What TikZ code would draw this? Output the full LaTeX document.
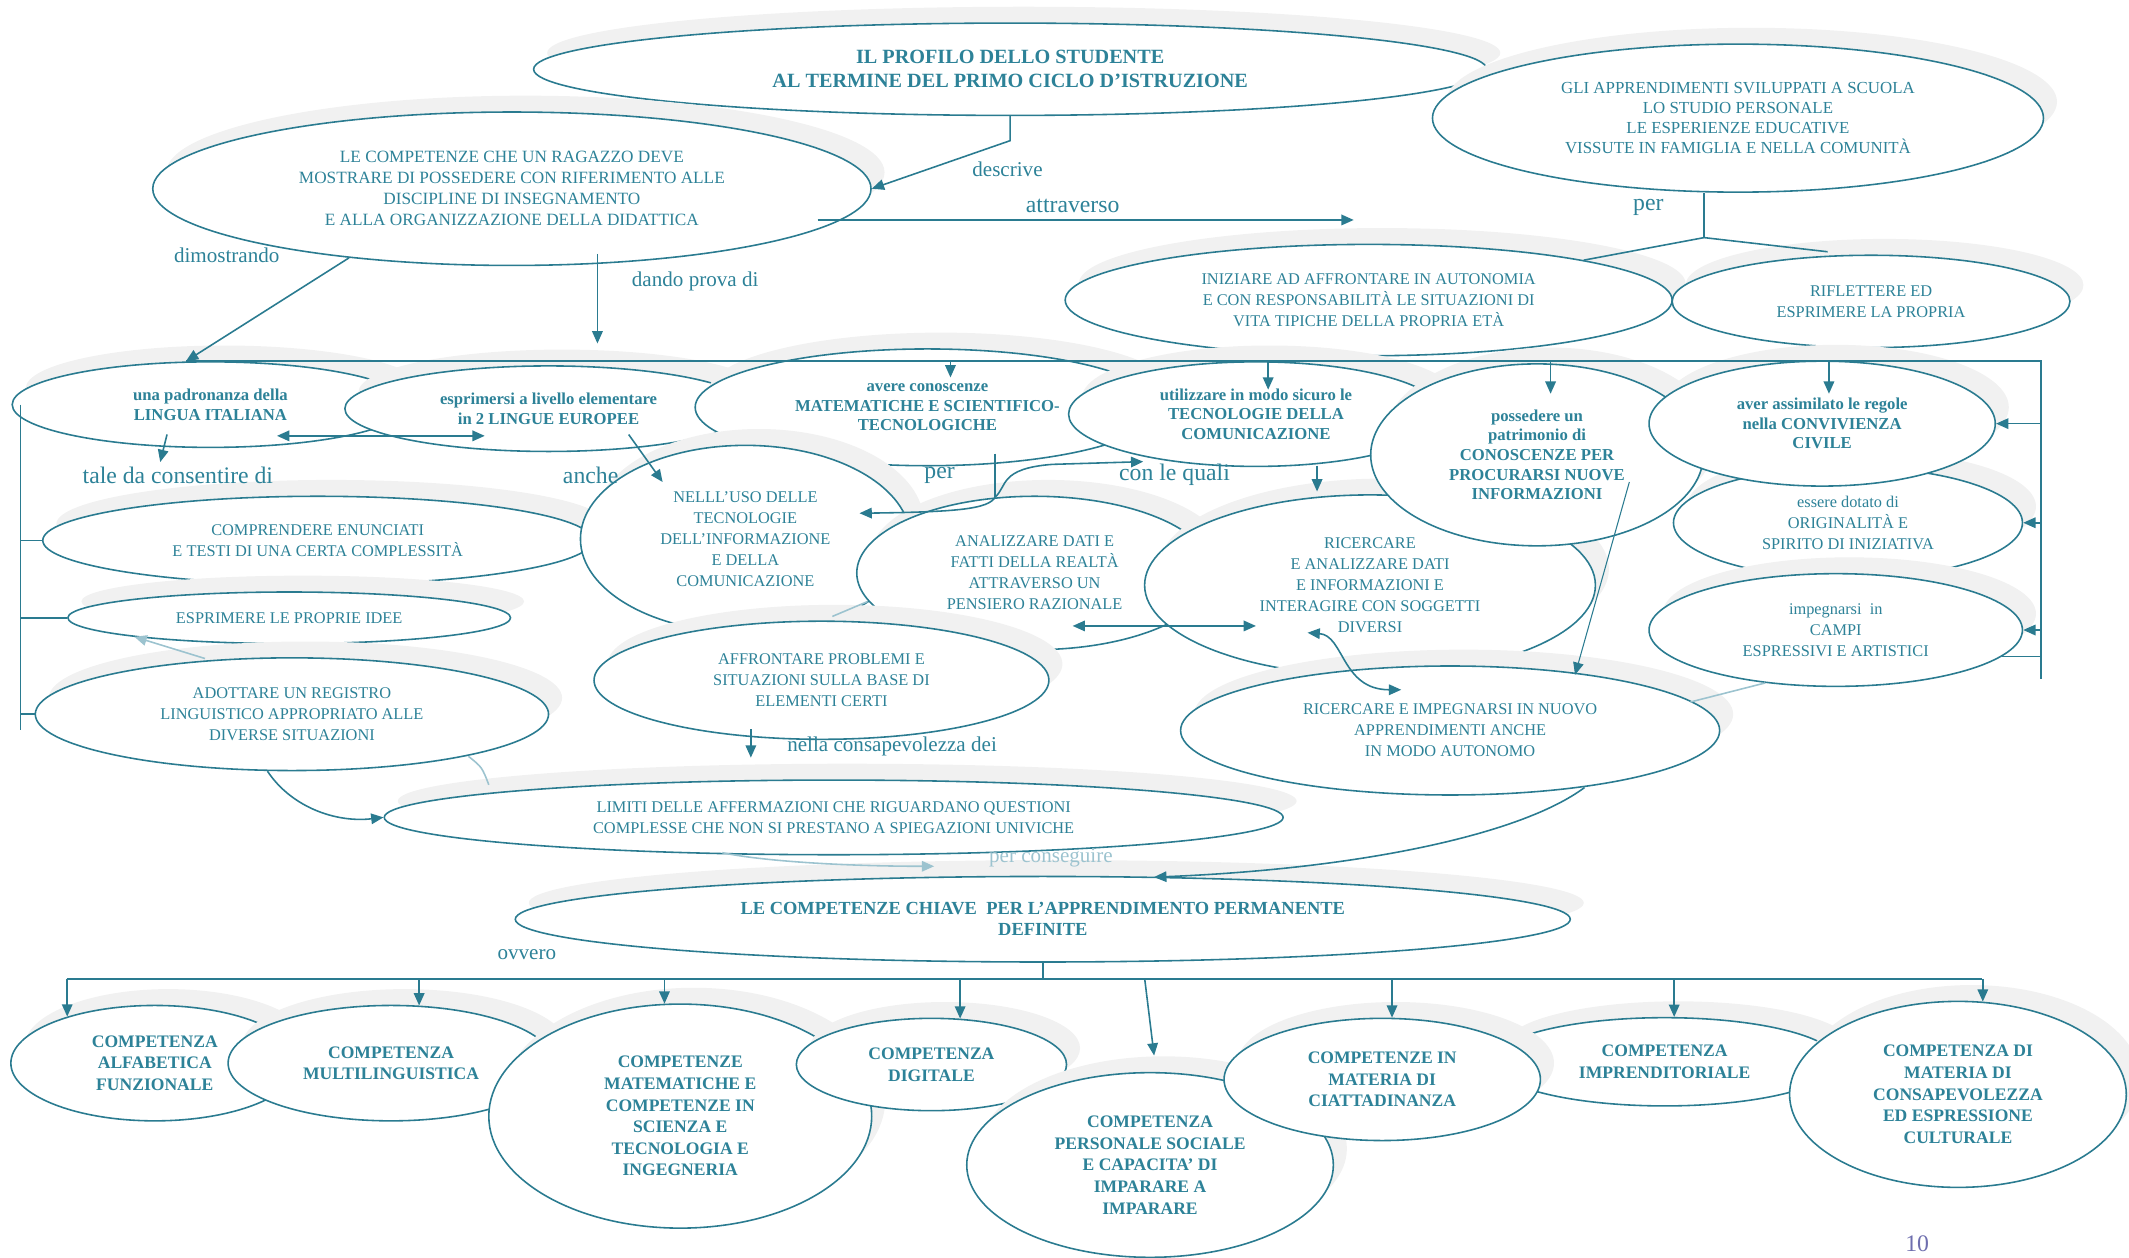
\documentclass[tikz,border=0pt]{standalone}
\usepackage{fontspec}
\setmainfont{Liberation Serif}
\usetikzlibrary{calc,arrows.meta,shapes.geometric,shadows}
\definecolor{lineTeal}{HTML}{2A7B90}
\definecolor{textTeal}{HTML}{2D8298}
\definecolor{fadeTeal}{HTML}{9CC3CF}
\definecolor{shadeGrey}{HTML}{F1F1F1}
\definecolor{pageViolet}{HTML}{6E6EAE}
\newcommand\pxu{0.027156cm}
\tikzset{
  bubble/.style 2 args={ellipse, draw=lineTeal, line width=0.9pt, fill=white, text=textTeal, align=center, inner sep=0pt, minimum width=#1*\pxu, minimum height=#2*\pxu, font=\fontsize{9.3}{12}\selectfont, drop shadow={shadow xshift=7.7pt, shadow yshift=9.3pt, opacity=1, fill=shadeGrey, draw=none}},
  boldbubble/.style 2 args={bubble={#1}{#2}, font=\bfseries\fontsize{9.5}{11.2}\selectfont},
  keybubble/.style 2 args={bubble={#1}{#2}, font=\bfseries\fontsize{10}{12.3}\selectfont},
  lbl/.style={text=textTeal, inner sep=1pt, font=\fontsize{12}{14}\selectfont},
  biglbl/.style={lbl, font=\fontsize{13.5}{15}\selectfont},
  link/.style={draw=lineTeal, line width=0.9pt},
  arr/.style={link, -{Triangle[length=7pt,width=6pt]}},
  dblarr/.style={link, {Triangle[length=7pt,width=6pt]}-{Triangle[length=7pt,width=6pt]}},
  faded/.style={draw=fadeTeal},
}

\begin{document}
\begin{tikzpicture}[x=\pxu, y=-\pxu]
  \useasboundingbox (0,0) rectangle (1568,926);

  \node[boldbubble={702}{68}, font=\bfseries\fontsize{11.5}{13.8}\selectfont] (profilo) at (744,51) {IL PROFILO DELLO STUDENTE\\AL TERMINE DEL PRIMO CICLO D’ISTRUZIONE};
  \node[bubble={450}{109}, font=\fontsize{9.6}{11.4}\selectfont] (appr) at (1280,87) {GLI APPRENDIMENTI SVILUPPATI A SCUOLA\\LO STUDIO PERSONALE\\LE ESPERIENZE EDUCATIVE\\VISSUTE IN FAMIGLIA E NELLA COMUNITÀ};
  \node[bubble={529}{113}, font=\fontsize{9.8}{12}\selectfont] (comp) at (377,139) {LE COMPETENZE CHE UN RAGAZZO DEVE\\MOSTRARE DI POSSEDERE CON RIFERIMENTO ALLE\\DISCIPLINE DI INSEGNAMENTO\\E ALLA ORGANIZZAZIONE DELLA DIDATTICA};
  \node[bubble={447}{82}] (iniz) at (1008,221) {INIZIARE AD AFFRONTARE IN AUTONOMIA\\E CON RESPONSABILITÀ LE SITUAZIONI DI\\VITA TIPICHE DELLA PROPRIA ETÀ};
  \node[bubble={293}{68}] (rifl) at (1378,222) {RIFLETTERE ED\\ESPRIMERE LA PROPRIA};

  \node[boldbubble={292}{63}] (ita) at (155,298) {una padronanza della\\LINGUA ITALIANA};
  \node[boldbubble={300}{63}] (eur) at (404,301) {esprimersi a livello elementare\\in 2 LINGUE EUROPEE};
  \node[boldbubble={342}{86}] (mat) at (683,300) {avere conoscenze\\MATEMATICHE E SCIENTIFICO-\\TECNOLOGICHE};
  \node[boldbubble={276}{77}] (tec) at (925,305) {utilizzare in modo sicuro le\\TECNOLOGIE DELLA\\COMUNICAZIONE};

  \node[bubble={405}{65}] (compr) at (234,398) {COMPRENDERE ENUNCIATI\\E TESTI DI UNA CERTA COMPLESSITÀ};
  \node[bubble={326}{38}] (idee) at (213,455) {ESPRIMERE LE PROPRIE IDEE};
  \node[bubble={378}{83}] (reg) at (215,526) {ADOTTARE UN REGISTRO\\LINGUISTICO APPROPRIATO ALLE\\DIVERSE SITUAZIONI};
  \node[bubble={243}{138}] (ict) at (549,397) {NELLL’USO DELLE\\TECNOLOGIE\\DELL’INFORMAZIONE\\E DELLA\\COMUNICAZIONE};
  \node[bubble={262}{113}] (anal) at (762,422) {ANALIZZARE DATI E\\FATTI DELLA REALTÀ\\ATTRAVERSO UN\\PENSIERO RAZIONALE};
  \node[bubble={335}{87}] (prob) at (605,501) {AFFRONTARE PROBLEMI E\\SITUAZIONI SULLA BASE DI\\ELEMENTI CERTI};
  \node[bubble={332}{133}] (ric) at (1009,431) {RICERCARE\\E ANALIZZARE DATI\\E INFORMAZIONI E\\INTERAGIRE CON SOGGETTI\\DIVERSI};
  \node[boldbubble={245}{134}] (pos) at (1132,335) {possedere un\\patrimonio di\\CONOSCENZE PER\\PROCURARSI NUOVE\\INFORMAZIONI};
  \node[bubble={257}{82}] (orig) at (1361,385) {essere dotato di\\ORIGINALITÀ E\\SPIRITO DI INIZIATIVA};
  \node[boldbubble={255}{92}] (civ) at (1342,312) {aver assimilato le regole\\nella CONVIVIENZA\\CIVILE};
  \node[bubble={275}{83}] (campi) at (1352,464) {impegnarsi~ in\\CAMPI\\ESPRESSIVI E ARTISTICI};
  \node[bubble={397}{95}] (nuovo) at (1068,538) {RICERCARE E IMPEGNARSI IN NUOVO\\APPRENDIMENTI ANCHE\\IN MODO AUTONOMO};
  \node[bubble={662}{55}] (limiti) at (614,602) {LIMITI DELLE AFFERMAZIONI CHE RIGUARDANO QUESTIONI\\COMPLESSE CHE NON SI PRESTANO A SPIEGAZIONI UNIVICHE};
  \node[boldbubble={777}{63}, font=\bfseries\fontsize{10.5}{11.8}\selectfont] (chiave) at (768,677) {LE COMPETENZE CHIAVE~ PER L’APPRENDIMENTO PERMANENTE\\DEFINITE};

  \node[keybubble={212}{85}] (alf) at (114,783) {COMPETENZA\\ALFABETICA\\FUNZIONALE};
  \node[keybubble={240}{85}] (multi) at (288,783) {COMPETENZA\\MULTILINGUISTICA};
  \node[keybubble={282}{165}] (mat2) at (501,822) {COMPETENZE\\MATEMATICHE E\\COMPETENZE IN\\SCIENZA E\\TECNOLOGIA E\\INGEGNERIA};
  \node[keybubble={199}{68}] (dig) at (686,784) {COMPETENZA\\DIGITALE};
  \node[keybubble={270}{136}] (pers) at (847,858) {COMPETENZA\\PERSONALE SOCIALE\\E CAPACITA’ DI\\IMPARARE A\\IMPARARE};
  \node[keybubble={255}{65}] (impr) at (1226,782) {COMPETENZA\\IMPRENDITORIALE};
  \node[keybubble={233}{90}] (citt) at (1018,795) {COMPETENZE IN\\MATERIA DI\\CIATTADINANZA};
  \node[keybubble={248}{137}] (cult) at (1442,806) {COMPETENZA DI\\MATERIA DI\\CONSAPEVOLEZZA\\ED ESPRESSIONE\\CULTURALE};

  \node[font=\fontsize{13.5}{15}\selectfont, text=pageViolet] (pagenum) at (1412,916) {10};

  \node[lbl] (lblDescrive) at (742,125) {descrive};
  \node[biglbl] (lblAttr) at (790,152) {attraverso};
  \node[biglbl] (lblPerA) at (1214,153) {per};
  \node[lbl] (lblDimo) at (167,188) {dimostrando};
  \node[lbl] (lblDando) at (512,207) {dando prova di};
  \node[biglbl] (lblTale) at (131,350) {tale da consentire di};
  \node[biglbl] (lblAnche) at (435,350) {anche};
  \node[biglbl] (lblPerB) at (692,350) {per};
  \node[biglbl] (lblConLe) at (865,350) {con le quali};
  \node[lbl] (lblNella) at (657,550) {nella consapevolezza dei};
  \node[lbl, text=fadeTeal] (lblConseg) at (774,632) {per conseguire};
  \node[lbl] (lblOvvero) at (388,703) {ovvero};

  % connectors
  \draw[arr] (profilo.south) -- ++(0,18) -- (comp.east);
  \coordinate (attrEnd) at (997,162);
  \draw[arr] ($(comp.east)+(-40,23)$) -- (attrEnd);
  \coordinate (perFork) at (1255,175);
  \draw[link] (appr.south -| perFork) -- (perFork);
  \draw[link] (perFork) -- (iniz.north east);
  \draw[link] (perFork) -- ($(rifl.north)+(-32,-2)$);

  \coordinate (busL) at (137,266);
  \coordinate (busR) at (1503,266);
  \coordinate (busEnd) at (1503,500);
  \draw[arr] (comp.203) -- (busL);
  \draw[arr] ($(comp)+(63,48)$) -- ++(0,66);
  \draw[link] (busL) -- (busR) -- (busEnd);
  \foreach \n/\dx/\dy/\len in {mat/17/-34/12, tec/9/-39/21, pos/10/-69/24, civ/5/-46/24}
    \draw[arr] ($(\n)+(\dx,\dy)$) -- ++(0,\len);
  \foreach \n in {civ, orig, campi}
    \draw[arr] (busR |- \n.east) -- (\n.east);
  \draw[link] (busR |- campi.-9) -- (campi.-9);

  \draw[arr] ($(ita)+(-32,22)$) -- ($(lblTale.north)+(-13,-2)$);
  \draw[dblarr] ($(ita)+(49,23)$) -- ($(eur)+(-47,20)$);
  \draw[arr] ($(eur)+(59,19)$) -- ($(ict)+(-61,-42)$);
  \coordinate (lbBot) at (15,538);
  \draw[link] (ita.west -| lbBot) -- (lbBot);
  \foreach \n in {compr, idee, reg}
    \draw[link] (lbBot |- \n.west) -- (\n.west);

  \coordinate (perJ) at (733,366);
  \draw[link] ($(mat)+(50,34)$) -- (perJ);
  \draw[arr] (perJ) .. controls (728,375) and (705,377) .. ($(ict)+(84,-19)$);
  \draw[arr] (perJ) .. controls (742,358) and (736,345) .. (775,342) -- ($(tec)+(-83,35)$);
  \draw[arr] ($(tec)+(45,38)$) -- ($(ric)+(-39,-69)$);
  \draw[arr, line width=0.6pt] ($(pos)+(68,20)$) -- ($(nuovo)+(92,-41)$);
  \draw[dblarr] ($(anal)+(28,39)$) -- ($(ric)+(-84,30)$);
  \draw[dblarr] ($(ric)+(-46,35)$) .. controls (990,468) and (988,508) .. ($(nuovo)+(-36,-30)$);

  \draw[arr] ($(prob)+(-52,36)$) -- ($(limiti)+(-61,-44)$);
  \draw[arr] ($(reg)+(-18,42)$) .. controls (215,595) and (248,606) .. (limiti.west);
  \draw[arr, faded] ($(reg)+(-64,-41)$) -- ($(idee)+(-114,14)$);
  \draw[link, faded] ($(reg)+(130,31)$) .. controls (355,565) .. ($(limiti)+(-254,-24)$);
  \draw[link, faded] ($(prob)+(8,-47)$) -- ($(anal)+(-123,21)$);
  \draw[link, faded] ($(nuovo)+(177,-21)$) -- ($(campi)+(-52,39)$);

  \draw[arr, faded] ($(limiti)+(-82,26)$) .. controls (560,634) and (620,638) .. ($(chiave)+(-80,-39)$);
  \draw[arr] ($(nuovo)+(99,42)$) .. controls (1120,615) and (1000,640) .. ($(chiave)+(82,-31)$);
  \coordinate (cbL) at (49,721);
  \coordinate (cbR) at (1460,721);
  \draw[link] (chiave.south) -- (chiave.south |- cbL);
  \draw[link] (cbL) -- (cbR);
  \foreach \n/\a in {alf/152, multi/64, mat2/98, dig/58, citt/81, impr/78, cult/75}
    \draw[arr] (cbL -| \n.\a) -- (\n.\a);
  \draw[arr] ($(pers.north)+(-4,-69)$) -- ($(pers.north)+(3,-12)$);
\end{tikzpicture}
\end{document}
